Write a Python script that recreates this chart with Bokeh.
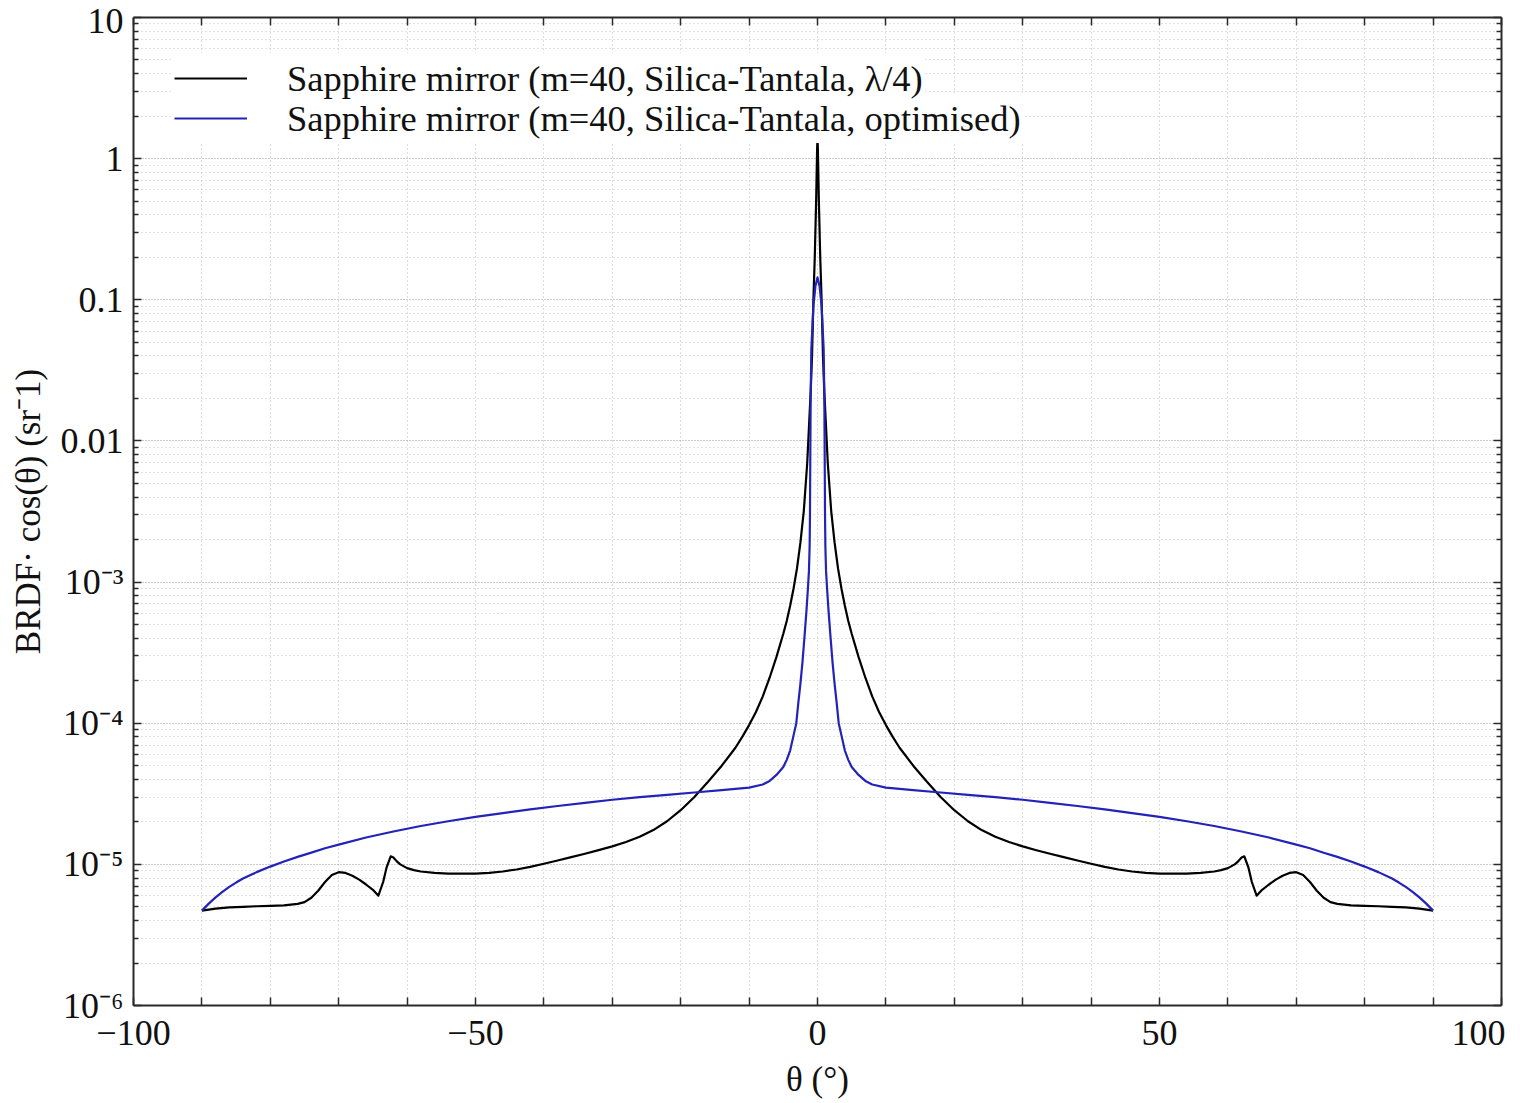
from bokeh.plotting import figure
from bokeh.models import (Range1d, FixedTicker, LinearAxis, LogAxis, Legend, LegendItem,
                          CustomJSTickFormatter)
from bokeh.embed import file_html
from bokeh.resources import INLINE

# ---------------- data ----------------
theta_qw = [-90, -88, -86, -84, -82, -80, -78, -76, -75, -74, -73, -72, -71, -70, -69,
            -68, -67, -66, -65, -64.2, -63.5, -63, -62.4, -62, -61.5, -61, -60, -59, -58,
            -56, -54, -52, -50, -48, -46, -44, -42, -40, -38, -36, -34, -32, -30, -28,
            -26, -24, -22, -20, -18, -16, -14, -12, -11, -10, -9, -8, -7, -6, -5, -4.5, -4,
            -3.5, -3, -2.5, -2, -1.5, -1.2, -1, -0.8, -0.6, -0.4, -0.2, -0.1, -0.05, 0,
            0.05, 0.1, 0.2, 0.4, 0.6, 0.8, 1, 1.2, 1.5, 2, 2.5, 3, 3.5, 4, 4.5, 5, 6, 7, 8,
            9, 10, 11, 12, 14, 16, 18, 20, 22, 24, 26, 28, 30, 32, 34, 36, 38, 40, 42, 44,
            46, 48, 50, 52, 54, 56, 58, 59, 60, 61, 61.5, 62, 62.4, 63, 63.5, 64.2, 65, 66,
            67, 68, 69, 70, 71, 72, 73, 74, 75, 76, 78, 80, 82, 84, 86, 88, 90]
brdf_qw = [4.7e-6, 4.85e-6, 4.95e-6, 5.0e-6, 5.05e-6, 5.08e-6, 5.12e-6, 5.25e-6, 5.4e-6,
           5.8e-6, 6.5e-6, 7.5e-6, 8.4e-6, 8.8e-6, 8.7e-6, 8.3e-6, 7.8e-6, 7.2e-6, 6.6e-6,
           6.0e-6, 7.5e-6, 9.5e-6, 1.14e-5, 1.12e-5, 1.05e-5, 1.0e-5, 9.4e-6, 9.1e-6,
           8.9e-6, 8.7e-6, 8.6e-6, 8.6e-6, 8.6e-6, 8.7e-6, 8.9e-6, 9.2e-6, 9.6e-6,
           1.01e-5, 1.065e-5, 1.125e-5, 1.19e-5, 1.26e-5, 1.34e-5, 1.44e-5, 1.57e-5,
           1.75e-5, 2.02e-5, 2.42e-5, 3.0e-5, 3.85e-5, 5.0e-5, 6.7e-5, 8.0e-5, 9.7e-5,
           1.2e-4, 1.55e-4, 2.1e-4, 2.95e-4, 4.3e-4, 5.3e-4, 6.8e-4, 9.0e-4, 1.25e-3,
           1.9e-3, 3.2e-3, 7.0e-3, 1.4e-2, 2.2e-2, 4.0e-2, 0.1, 0.2, 0.5, 0.9, 1.2, 1.39,
           1.2, 0.9, 0.5, 0.2, 0.1, 4.0e-2, 2.2e-2, 1.4e-2, 7.0e-3, 3.2e-3, 1.9e-3,
           1.25e-3, 9.0e-4, 6.8e-4, 5.3e-4, 4.3e-4, 2.95e-4, 2.1e-4, 1.55e-4, 1.2e-4,
           9.7e-5, 8.0e-5, 6.7e-5, 5.0e-5, 3.85e-5, 3.0e-5, 2.42e-5, 2.02e-5, 1.75e-5,
           1.57e-5, 1.44e-5, 1.34e-5, 1.26e-5, 1.19e-5, 1.125e-5, 1.065e-5, 1.01e-5,
           9.6e-6, 9.2e-6, 8.9e-6, 8.7e-6, 8.6e-6, 8.6e-6, 8.6e-6, 8.7e-6, 8.9e-6, 9.1e-6,
           9.4e-6, 1.0e-5, 1.05e-5, 1.12e-5, 1.14e-5, 9.5e-6, 7.5e-6, 6.0e-6, 6.6e-6,
           7.2e-6, 7.8e-6, 8.3e-6, 8.7e-6, 8.8e-6, 8.4e-6, 7.5e-6, 6.5e-6, 5.8e-6, 5.4e-6,
           5.25e-6, 5.12e-6, 5.08e-6, 5.05e-6, 5.0e-6, 4.95e-6, 4.85e-6, 4.7e-6]

theta_opt = [-90, -89, -88, -87, -86, -85, -84, -82, -80, -78, -76, -74, -72, -70, -66,
             -62, -58, -54, -50, -46, -42, -38, -34, -30, -26, -22, -18, -14, -10, -8, -7,
             -6, -5, -4.5, -4, -3.5, -3.1, -2.8, -2.5, -2.2, -1.9, -1.6, -1.4, -1.25,
             -1.15, -1.1, -1.05, -1.0, -0.9, -0.6, -0.3, 0,
             0.3, 0.6, 0.9, 1.0, 1.05, 1.1, 1.15, 1.25, 1.4, 1.6, 1.9, 2.2, 2.5, 2.8, 3.1,
             3.5, 4, 4.5, 5, 6, 7, 8, 10, 14, 18, 22, 26, 30, 34, 38, 42, 46, 50, 54, 58,
             62, 66, 70, 72, 74, 76, 78, 80, 82, 84, 85, 86, 87, 88, 89, 90]
brdf_opt = [4.7e-6, 5.27e-6, 5.83e-6, 6.38e-6, 6.92e-6, 7.43e-6, 7.93e-6, 8.81e-6,
            9.64e-6, 1.047e-5, 1.13e-5, 1.21e-5, 1.30e-5, 1.38e-5, 1.55e-5, 1.71e-5,
            1.87e-5, 2.02e-5, 2.17e-5, 2.31e-5, 2.45e-5, 2.59e-5, 2.73e-5, 2.87e-5,
            2.99e-5, 3.11e-5, 3.23e-5, 3.36e-5, 3.5e-5, 3.68e-5, 3.9e-5, 4.3e-5, 4.9e-5,
            5.5e-5, 6.4e-5, 8.2e-5, 1.0e-4, 1.4e-4, 1.9e-4, 2.7e-4, 4.1e-4, 6.4e-4,
            9.0e-4, 1.2e-3, 1.8e-3, 3.0e-3, 8.0e-3, 2.0e-2, 4.5e-2, 9.0e-2, 0.125, 0.144,
            0.125, 9.0e-2, 4.5e-2, 2.0e-2, 8.0e-3, 3.0e-3, 1.8e-3, 1.2e-3, 9.0e-4, 6.4e-4,
            4.1e-4, 2.7e-4, 1.9e-4, 1.4e-4, 1.0e-4, 8.2e-5, 6.4e-5, 5.5e-5, 4.9e-5,
            4.3e-5, 3.9e-5, 3.68e-5, 3.5e-5, 3.36e-5, 3.23e-5, 3.11e-5, 2.99e-5, 2.87e-5,
            2.73e-5, 2.59e-5, 2.45e-5, 2.31e-5, 2.17e-5, 2.02e-5, 1.87e-5, 1.71e-5,
            1.55e-5, 1.38e-5, 1.30e-5, 1.21e-5, 1.13e-5, 1.047e-5, 9.64e-6, 8.81e-6,
            7.93e-6, 7.43e-6, 6.92e-6, 6.38e-6, 5.83e-6, 5.27e-6, 4.7e-6]

series_labels = ["Sapphire mirror (m=40, Silica-Tantala, \u03bb/4)",
                 "Sapphire mirror (m=40, Silica-Tantala, optimised)"]

x_ticks = list(range(-100, 101, 10))
x_tick_labels = {-100: "\u2212100", -50: "\u221250", 0: "0", 50: "50", 100: "100"}
y_ticks = [1e-6, 1e-5, 1e-4, 1e-3, 1e-2, 1e-1, 1.0, 10.0]
y_tick_labels = ["10\u207b\u2076", "10\u207b\u2075", "10\u207b\u2074", "10\u207b\u00b3",
                 "0.01", "0.1", "1", "10"]

x_label = "\u03b8 (\u00b0)"
y_label = "BRDF\u00b7 cos(\u03b8) (sr\u207b1)"

# ---------------- figure ----------------
FONT = "Liberation Serif"

p = figure(width=1505, height=1101, y_axis_type="log",
           x_range=Range1d(-100, 100), y_range=Range1d(1e-6, 10),
           output_backend="svg", toolbar_location=None,
           min_border_left=133, min_border_right=4, min_border_top=17, min_border_bottom=96)
p.background_fill_color = "white"
p.border_fill_color = "white"
p.outline_line_color = None

bottom_axis = p.below[0]
left_axis = p.left[0]

y_minor = [m * t for t in y_ticks[:-1] for m in range(2, 10)]
xt = FixedTicker(ticks=x_ticks, minor_ticks=[])
yt = FixedTicker(ticks=y_ticks, minor_ticks=y_minor)

bottom_axis.ticker = xt
left_axis.ticker = yt
bottom_axis.major_label_overrides = {t: x_tick_labels.get(t, "") for t in x_ticks}
left_axis.major_label_overrides = dict(zip(y_ticks, y_tick_labels))

blank = CustomJSTickFormatter(code="return ''")
top_axis = LinearAxis(ticker=xt, formatter=blank, major_label_standoff=0)
right_axis = LogAxis(ticker=yt, formatter=blank, major_label_standoff=0)
p.add_layout(top_axis, "above")
p.add_layout(right_axis, "right")

for ax in [bottom_axis, left_axis, top_axis, right_axis]:
    ax.axis_line_color = "#2a2a2a"
    ax.axis_line_width = 2
    ax.major_tick_in = 8
    ax.major_tick_out = 0
    ax.minor_tick_in = 5
    ax.minor_tick_out = 0
    ax.major_tick_line_color = "#2a2a2a"
    ax.minor_tick_line_color = "#2a2a2a"
    ax.major_tick_line_width = 1.5
    ax.minor_tick_line_width = 1.5

for ax in [bottom_axis, left_axis]:
    ax.major_label_text_font = FONT
    ax.major_label_text_font_size = "36px"
    ax.major_label_text_color = "#111111"
    ax.axis_label_text_font = FONT
    ax.axis_label_text_font_size = "35px"
    ax.axis_label_text_font_style = "normal"
    ax.axis_label_text_color = "#111111"

bottom_axis.major_label_standoff = 15
left_axis.major_label_standoff = 10
bottom_axis.axis_label = x_label
left_axis.axis_label = y_label
bottom_axis.axis_label_standoff = 12
left_axis.axis_label_standoff = 10

p.xgrid.grid_line_color = "#bcbcbc"
p.xgrid.grid_line_dash = "1 3"
p.xgrid.grid_line_width = 1
p.ygrid.grid_line_color = "#9a9a9a"
p.ygrid.grid_line_dash = "1 2"
p.ygrid.grid_line_width = 1
p.ygrid.minor_grid_line_color = "#c4c4c4"
p.ygrid.minor_grid_line_dash = "1 3"
p.ygrid.minor_grid_line_width = 1

r_qw = p.line(theta_qw, brdf_qw, line_color="#000000", line_width=2.2, line_join="round")
r_opt = p.line(theta_opt, brdf_opt, line_color="#2323b8", line_width=2.2, line_join="round")


def make_legend(label, renderer, offset):
    lg = Legend(items=[LegendItem(label=label, renderers=[renderer])], location=offset)
    lg.padding = 2
    lg.spacing = 0
    lg.glyph_width = 73
    lg.glyph_height = 46
    lg.label_height = 46
    lg.label_standoff = 40
    lg.label_text_font = FONT
    lg.label_text_font_size = "36.5px"
    lg.label_text_color = "#111111"
    lg.background_fill_color = "white"
    lg.background_fill_alpha = 1.0
    lg.border_line_alpha = 0
    lg.margin = 0
    return lg


# second row first, so the first row's box lies on top of it
p.add_layout(make_legend(series_labels[1], r_opt, (39, 862)))
p.add_layout(make_legend(series_labels[0], r_qw, (39, 902)))

open("out.html", "w").write(file_html(p, INLINE))
